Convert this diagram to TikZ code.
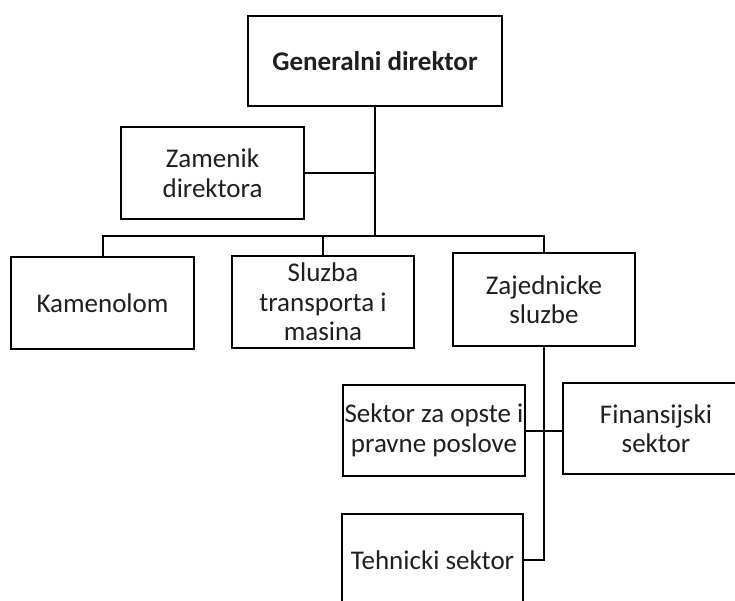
\documentclass[tikz,border=0pt]{standalone}
\usepackage{fontspec}
\setmainfont{Carlito}
\begin{document}
\begin{tikzpicture}[x=1pt,y=-1pt,
  unit/.style={draw=black, line width=2pt, fill=white, rectangle, inner sep=0pt,
    align=center, text=black!88, font=\fontsize{27}{29.5}\selectfont},
  link/.style={draw=black, line width=2pt}]
\path[use as bounding box, clip] (0,0) rectangle (735,600);
\fill[white] (0,0) rectangle (735,600);
% nodes
\node[unit, minimum width=254pt, minimum height=90pt, font=\fontsize{27}{29.5}\selectfont\bfseries] (g) at (375,61) {Generalni direktor};
\node[unit, minimum width=183pt, minimum height=92pt] (z) at (212.5,173) {Zamenik\\direktora};
\node[unit, minimum width=183pt, minimum height=92pt] (k) at (102.5,303) {Kamenolom};
\node[unit, minimum width=182pt, minimum height=92pt] (s) at (323,302) {Sluzba\\transporta i\\masina};
\node[unit, minimum width=182pt, minimum height=93pt] (j) at (544,299.5) {Zajednicke\\sluzbe};
\node[unit, minimum width=182pt, minimum height=91pt] (o) at (434,430.5) {Sektor za opste i\\pravne poslove};
\node[unit, minimum width=186pt, minimum height=91pt] (f) at (656,428.5) {Finansijski\\sektor};
\node[unit, minimum width=181pt, minimum height=92pt] (t) at (432.5,560) {Tehnicki sektor};
% connectors
\coordinate (bus) at (375,236);
\draw[link] (g.south) -- (bus);
\draw[link] (z.east) -- (z.east -| g.south);
\draw[link] (k.north) |- (bus) -| (j.north);
\draw[link] (s.north) -- (s.north |- bus);
\draw[link] (j.south) |- (t.east);
\draw[link] (o.east) -- (o.east -| f.west);
\end{tikzpicture}
\end{document}
